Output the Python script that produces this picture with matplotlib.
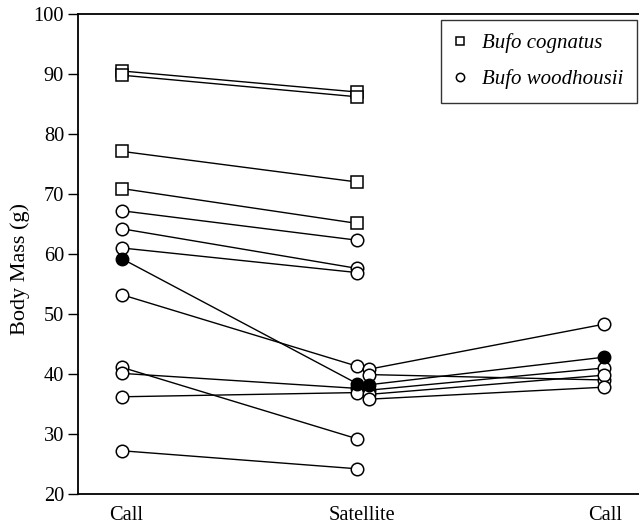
import matplotlib.pyplot as plt
from matplotlib.lines import Line2D

plt.rcParams["font.family"] = "Liberation Serif"

# Bufo cognatus (squares): first call -> satellite
cognatus_call = [90.5, 89.8, 77.1, 70.9]
cognatus_sat = [87.0, 86.2, 72.0, 65.1]

# Bufo woodhousii (open circles): first call -> satellite
woodhousii_call = [67.2, 64.2, 61.0, 53.2, 41.1, 40.1, 36.2, 27.2]
woodhousii_sat = [62.3, 57.6, 56.9, 41.3, 29.2, 37.6, 36.9, 24.2]

# Bufo woodhousii (open circles): satellite -> second call
woodhousii_sat2 = [40.8, 39.9, 37.3, 36.6, 35.8]
woodhousii_call2 = [48.3, 39.0, 41.0, 39.8, 37.8]

# the one filled male: call -> satellite -> call
filled_call = 59.2
filled_sat = [38.4, 38.2]
filled_call2 = 42.8

tick_labels = ["Call", "Satellite", "Call"]

# x positions of the columns
X_CALL1, X_SAT_A, X_SAT_B, X_CALL2 = 1.0, 1.975, 2.025, 3.0
LABEL_X = [1.017, 1.994, 3.004]

fig = plt.figure(figsize=(6.39, 5.24), dpi=100)
ax = fig.add_axes([0.122, 0.0573, 0.878, 0.916])

line_kw = dict(color="black", lw=1.0, zorder=1)
open_kw = dict(ls="none", mfc="white", mec="black", mew=1.1, zorder=3)
CIRC = 9
SQ = 8.5

for a, b in zip(cognatus_call, cognatus_sat):
    ax.plot([X_CALL1, X_SAT_A], [a, b], **line_kw)
ax.plot([X_CALL1] * len(cognatus_call), cognatus_call, marker="s", ms=SQ, **open_kw)
ax.plot([X_SAT_A] * len(cognatus_sat), cognatus_sat, marker="s", ms=SQ, **open_kw)

for a, b in zip(woodhousii_call, woodhousii_sat):
    ax.plot([X_CALL1, X_SAT_A], [a, b], **line_kw)
for a, b in zip(woodhousii_sat2, woodhousii_call2):
    ax.plot([X_SAT_B, X_CALL2], [a, b], **line_kw)

ax.plot([X_CALL1, X_SAT_A], [filled_call, filled_sat[0]], **line_kw)
ax.plot([X_SAT_B, X_CALL2], [filled_sat[1], filled_call2], **line_kw)

ax.plot([X_CALL1] * len(woodhousii_call), woodhousii_call, marker="o", ms=CIRC, **open_kw)
ax.plot([X_SAT_A] * len(woodhousii_sat), woodhousii_sat, marker="o", ms=CIRC, **open_kw)
ax.plot([X_SAT_B] * len(woodhousii_sat2), woodhousii_sat2, marker="o", ms=CIRC, **open_kw)
ax.plot([X_CALL2] * len(woodhousii_call2), woodhousii_call2, marker="o", ms=CIRC, **open_kw)

ax.plot([X_CALL1, X_SAT_A, X_SAT_B, X_CALL2],
        [filled_call, filled_sat[0], filled_sat[1], filled_call2],
        ls="none", marker="o", ms=CIRC, mfc="black", mec="black", zorder=4)

ax.set_xlim(0.817, 3.145)
ax.set_ylim(20, 100)
ax.set_yticks(range(20, 101, 10))
ax.set_xticks(LABEL_X)
ax.set_xticklabels(tick_labels)
ax.tick_params(axis="y", direction="out", length=7, width=1.0, labelsize=14.7, pad=3)
ax.tick_params(axis="x", length=0, labelsize=14.7, pad=9)
ax.set_ylabel("Body Mass (g)", fontsize=16, va="center")
ax.yaxis.set_label_coords(-0.103, 0.469)

ax.spines["right"].set_visible(False)
for s in ["left", "top", "bottom"]:
    ax.spines[s].set_linewidth(1.3)

handles = [
    Line2D([], [], ls="none", marker="s", ms=6, mfc="white", mec="black", mew=1.1),
    Line2D([], [], ls="none", marker="o", ms=6, mfc="white", mec="black", mew=1.1),
]
leg = ax.legend(handles, ["Bufo cognatus", "Bufo woodhousii"],
                loc="upper right", bbox_to_anchor=(0.996, 0.9875),
                prop={"style": "italic", "size": 15}, frameon=True,
                fancybox=False, edgecolor="black", borderpad=0.65,
                labelspacing=0.75, handlelength=0.5, handletextpad=0.8,
                borderaxespad=0)
leg.get_frame().set_linewidth(1.0)

fig.savefig("out.png", dpi=100)
